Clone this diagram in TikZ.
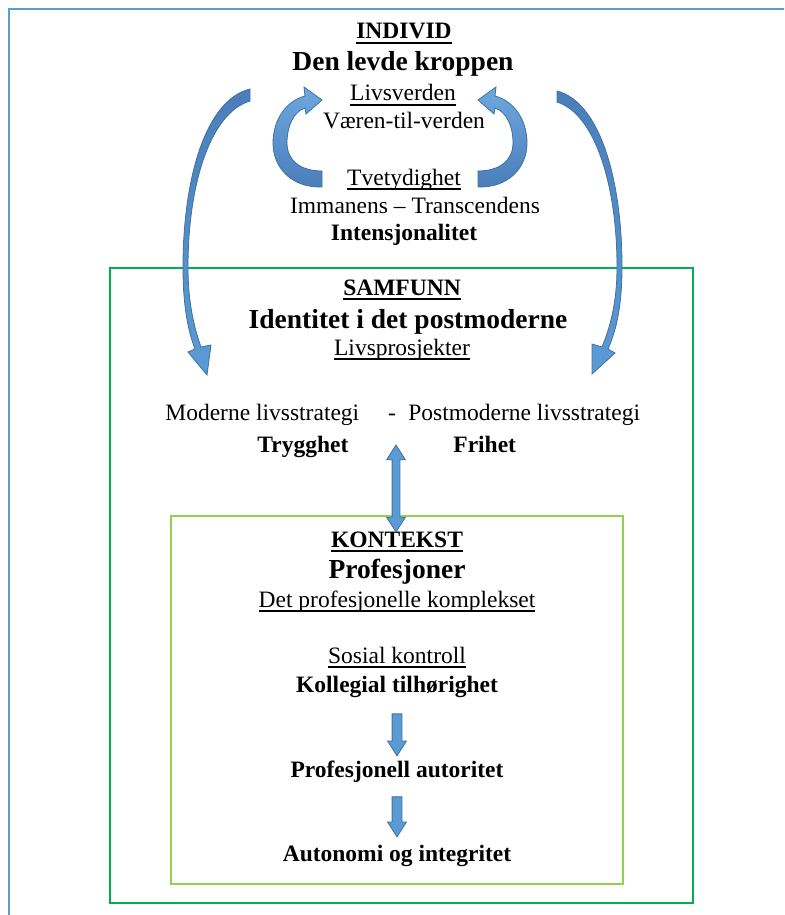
\documentclass[tikz,border=0pt]{standalone}
\usepackage{fontspec}
\setmainfont{Liberation Serif}
\usetikzlibrary{shapes.arrows}
\newcommand\ulx[1]{\leavevmode\setbox0=\hbox{#1}\rlap{\rule[-2.3pt]{\wd0}{0.8pt}}\box0}
\definecolor{ablue}{RGB}{91,155,213}
\definecolor{alight}{RGB}{110,168,222}
\definecolor{amid}{RGB}{74,126,187}
\definecolor{adark}{RGB}{65,113,156}
\definecolor{outerblue}{RGB}{91,155,213}
\definecolor{dgreen}{RGB}{0,176,80}
\definecolor{lgreen}{RGB}{146,208,80}
\tikzset{
  txt/.style={inner sep=0pt, anchor=base, font=\fontsize{11.75}{14}\selectfont},
  bld/.style={txt, font=\fontsize{11.75}{14}\selectfont\bfseries},
  big/.style={txt, font=\fontsize{13.75}{16}\selectfont\bfseries},
  ribbon/.style={draw=adark, line width=0.4pt, top color=alight, bottom color=amid},
  bigribbon/.style={draw=adark, line width=0.4pt, top color=amid, bottom color=ablue},
  downarr/.style={single arrow, shape border rotate=270, draw=adark, fill=ablue,
    line width=0.4pt, inner sep=2.25pt, single arrow head extend=2.25pt,
    single arrow tip angle=65, single arrow head indent=0pt},
  updownarr/.style={double arrow, shape border rotate=90, draw=adark, fill=ablue,
    line width=0.4pt, inner sep=1.75pt, double arrow head extend=2.75pt,
    double arrow tip angle=65, double arrow head indent=0pt},
}
\begin{document}
\begin{tikzpicture}[x=0.5pt,y=-0.5pt]
\useasboundingbox (0,0) rectangle (784,915);
\clip (0,0) rectangle (784,915);
% frames
\draw[outerblue, line width=1pt] (9,9) rectangle (800,940);
\draw[dgreen, line width=1pt] (110,268) rectangle (693,903);
\draw[lgreen, line width=1pt] (171,516) rectangle (623,884);

% INDIVID
\node[bld] (individ) at (404,39) {\ulx{INDIVID}};
\node[big] (kropp) at (403,71) {Den levde kroppen};
\node[txt] (livsverden) at (403,101) {\ulx{Livsverden}};
\node[txt] (vaeren) at (404,128) {Væren-til-verden};
\node[txt] (tvety) at (404,185) {\ulx{Tvetydighet}};
\node[txt] (imman) at (415,213) {Immanens – Transcendens};
\node[bld] (intens) at (404,240) {Intensjonalitet};

% SAMFUNN
\node[bld] (samfunn) at (402,295) {\ulx{SAMFUNN}};
\node[big] (identitet) at (408,328) {Identitet i det postmoderne};
\node[txt] (livsprosj) at (402,355) {\ulx{Livsprosjekter}};
\node[txt, anchor=base west] (moderne) at (165,420) {Moderne livsstrategi};
\node[txt] (dash) at (392,420) {-};
\node[txt, anchor=base west] (postmod) at (408,420) {Postmoderne livsstrategi};
\node[bld, anchor=base west] (trygghet) at (257,452) {Trygghet};
\node[bld, anchor=base west] (frihet) at (453,452) {Frihet};

% KONTEKST
\node[bld] (kontekst) at (397,547) {\ulx{KONTEKST}};
\node[big] (prof) at (397,578) {Profesjoner};
\node[txt] (komplekset) at (397,607) {\ulx{Det profesjonelle komplekset}};
\node[txt] (sosial) at (397,663) {\ulx{Sosial kontroll}};
\node[bld] (kollegial) at (397,692) {Kollegial tilhørighet};
\node[bld] (autoritet) at (397,777) {Profesjonell autoritet};
\node[bld] (autonomi) at (397,861) {Autonomi og integritet};

% small circular arrows
\path[ribbon] (322,171) -- (322,187) .. controls (292,188) and (273,168) .. (273,143)
  .. controls (273,120) and (286,101) .. (305,96) -- (304,87) -- (322,100) -- (306,114)
  -- (305,108) .. controls (293,112) and (287,127) .. (287,143)
  .. controls (287,160) and (300,171) .. (322,171) -- cycle;
\begin{scope}[xshift=400pt, xscale=-1]
\path[ribbon] (322,171) -- (322,187) .. controls (292,188) and (273,168) .. (273,143)
  .. controls (273,120) and (286,101) .. (305,96) -- (304,87) -- (322,100) -- (306,114)
  -- (305,108) .. controls (293,112) and (287,127) .. (287,143)
  .. controls (287,160) and (300,171) .. (322,171) -- cycle;
\end{scope}

% big side arrows
\path[bigribbon] (250,89) .. controls (205,100) and (183,180) .. (183,267)
  .. controls (183,310) and (189,333) .. (195,349) -- (188,352) -- (207,375) -- (211,345)
  -- (201,347) .. controls (195,330) and (188,305) .. (188,267)
  .. controls (188,185) and (210,113) .. (250,101) -- cycle;
\path[bigribbon] (557,91) .. controls (600,102) and (622,180) .. (622,267)
  .. controls (622,310) and (615,333) .. (608,349) -- (615,353) -- (592,374) -- (592,344)
  -- (602,347) .. controls (609,330) and (617,305) .. (617,267)
  .. controls (617,185) and (595,114) .. (557,102) -- cycle;

% straight block arrows
\node[updownarr, minimum height=43.5pt] (dbl) at (396,488.5) {};
\node[downarr, minimum height=21pt] (down1) at (397,731) {};
\node[downarr, minimum height=20pt] (down2) at (397,813) {};
\end{tikzpicture}
\end{document}
